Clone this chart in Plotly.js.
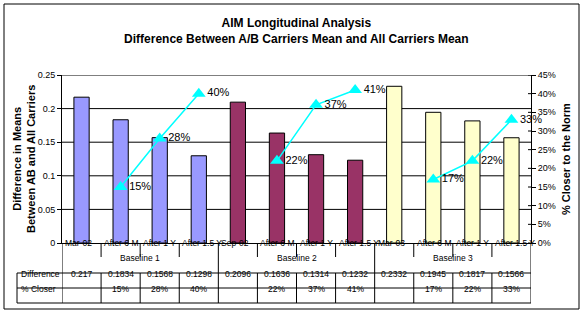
<!DOCTYPE html>
<html>
<head>
<meta charset="utf-8">
<script src="https://cdn.plot.ly/plotly-3.0.1.min.js"></script>
<style>
  body { margin: 0; background: #fff; }
  #chart { width: 584px; height: 315px; }
</style>
</head>
<body>
<div id="chart"></div>
<script>
// chart data
const categories = ["Mar-02", "After 6 M", "After 1 Y", "After 1.5 Y",
                    "Sep-02", "After 6 M", "After 1 Y", "After 1.5 Y",
                    "Mar-03", "After 6 M", "After 1 Y", "After 1.5 Y"];
const baselines = ["Baseline 1", "Baseline 2", "Baseline 3"];
const difference = [0.217, 0.1834, 0.1568, 0.1298, 0.2096, 0.1636, 0.1314, 0.1232, 0.2332, 0.1945, 0.1817, 0.1566];
const closer = [null, 15, 28, 40, null, 22, 37, 41, null, 17, 22, 33];
const leftTicks = [0, 0.05, 0.1, 0.15, 0.2, 0.25];
const rightTicks = [0, 5, 10, 15, 20, 25, 30, 35, 40, 45];

const groupColors = ["#9999FF", "#993366", "#FFFFCC"];
const perGroup = categories.length / baselines.length;

// plot area in pixels: left 62, right 531, top 75, bottom 243
const L = 62, R = 531, T = 75, B = 243;
const px = p => (p - L) / (R - L);
const py = p => (B - p) / (B - T);

const idx = categories.map((c, i) => i);
const font = "Arial, 'Liberation Sans', sans-serif";
const small = { family: font, size: 8.5, color: "#000" };

const bars = {
    x: idx,
    y: difference,
    type: "bar",
    width: 0.39,
    marker: {
        color: idx.map(i => groupColors[Math.floor(i / perGroup)]),
        line: { color: "#000", width: 1 }
    },
    hoverinfo: "y",
    showlegend: false
};

const line = {
    x: idx,
    y: closer,
    yaxis: "y2",
    type: "scatter",
    mode: "lines+markers+text",
    connectgaps: false,
    line: { color: "#00FFFF", width: 1.5 },
    marker: { symbol: "triangle-up", size: 12, color: "#00FFFF" },
    text: closer.map(v => v == null ? "" : v + "%"),
    textposition: "middle right",
    textfont: { family: font, size: 11, color: "#000" },
    cliponaxis: false,
    showlegend: false
};

const shapes = [];
const annotations = [];
const lineStyle = { color: "#000", width: 1 };

// horizontal gridlines
leftTicks.filter(v => v > 0).forEach(v => {
    shapes.push({ type: "line", xref: "paper", yref: "y", x0: 0, x1: 1, y0: v, y1: v,
        layer: "below", line: lineStyle });
});

// right axis ticks cross the axis line
rightTicks.forEach(v => {
    shapes.push({ type: "line", xref: "paper", yref: "y2", x0: px(R - 3), x1: px(R), y0: v, y1: v, line: lineStyle });
});

// table drawn under the axis
function hline(x0, x1, y, xref) {
    shapes.push({ type: "line", xref: xref, yref: "paper", x0: x0, x1: x1, y0: py(y), y1: py(y), line: lineStyle });
}
function vline(x, y0, y1, xref) {
    shapes.push({ type: "line", xref: xref, yref: "paper", x0: x, x1: x, y0: py(y0), y1: py(y1), line: lineStyle });
}

const rowTop = 273, rowMid = 288, rowBot = 303, labelBot = 257;
hline(px(17), 1, rowTop, "paper");
hline(px(17), 1, rowMid, "paper");
hline(px(17), 1, rowBot, "paper");
vline(px(17), rowTop, rowBot, "paper");

for (let i = 0; i <= categories.length; i++) {
    const edge = i % perGroup === 0;
    vline(i - 0.5, B, edge ? rowBot : labelBot, "x");
    if (!edge) vline(i - 0.5, rowTop, rowBot, "x");
}

categories.forEach((c, i) => {
    annotations.push({ xref: "x", yref: "paper", x: i - 0.5, y: py(249.5), text: c,
        xanchor: "left", xshift: 1, showarrow: false, font: small });
    annotations.push({ xref: "x", yref: "paper", x: i, y: py(280.5), text: String(difference[i]),
        xanchor: "center", showarrow: false, font: small });
    if (closer[i] != null) {
        annotations.push({ xref: "x", yref: "paper", x: i, y: py(295.5), text: closer[i] + "%",
            xanchor: "center", showarrow: false, font: small });
    }
});
baselines.forEach((b, g) => {
    annotations.push({ xref: "x", yref: "paper", x: g * perGroup + (perGroup - 1) / 2, y: py(265), text: b,
        xanchor: "center", showarrow: false, font: small });
});
annotations.push({ xref: "paper", yref: "paper", x: px(19), y: py(280.5), text: "Difference",
    xanchor: "left", showarrow: false, font: small });
annotations.push({ xref: "paper", yref: "paper", x: px(19), y: py(295.5), text: "% Closer",
    xanchor: "left", showarrow: false, font: small });

// left and right axis titles
annotations.push({ xref: "paper", yref: "paper", x: px(24), y: 0.5, xanchor: "center", yanchor: "middle",
    textangle: -90, text: "<b>Difference in Means<br>Between AB and All Carriers</b>",
    showarrow: false, font: { family: font, size: 11, color: "#000" } });
annotations.push({ xref: "paper", yref: "paper", x: px(566), y: 0.5, xanchor: "center", yanchor: "middle",
    textangle: -90, text: "<b>% Closer to the Norm</b>",
    showarrow: false, font: { family: font, size: 11, color: "#000" } });

// outer border
shapes.push({ type: "rect", xref: "paper", yref: "paper", x0: px(4), x1: px(579), y0: py(4), y1: py(309),
    line: { color: "#000", width: 1 } });

const layout = {
    width: 584,
    height: 315,
    margin: { l: L, r: 584 - R, t: T, b: 315 - B },
    paper_bgcolor: "#fff",
    plot_bgcolor: "#fff",
    font: { family: font, color: "#000" },
    title: {
        text: "<b>AIM Longitudinal Analysis<br>Difference Between A/B Carriers Mean and All Carriers Mean</b>",
        font: { family: font, size: 12, color: "#000" },
        x: px(300), xanchor: "center", y: 1 - 27 / 315, yanchor: "middle"
    },
    xaxis: {
        range: [-0.5, categories.length - 0.5],
        showticklabels: false,
        ticks: "",
        showgrid: false,
        zeroline: false,
        showline: true,
        linecolor: "#000",
        linewidth: 1,
        fixedrange: true
    },
    yaxis: {
        range: [0, 0.25],
        tickvals: leftTicks,
        ticktext: leftTicks.map(String),
        ticks: "outside",
        ticklen: 4,
        tickcolor: "#000",
        showline: true,
        linecolor: "#000",
        showgrid: false,
        zeroline: false,
        tickfont: { family: font, size: 9, color: "#000" }
    },
    yaxis2: {
        range: [0, 45],
        overlaying: "y",
        side: "right",
        tickvals: rightTicks,
        ticktext: rightTicks.map(v => v + "%"),
        ticks: "outside",
        ticklen: 4,
        tickcolor: "#000",
        showline: true,
        linecolor: "#000",
        showgrid: false,
        zeroline: false,
        tickfont: { family: font, size: 9, color: "#000" }
    },
    shapes: shapes,
    annotations: annotations,
    showlegend: false
};

Plotly.newPlot("chart", [bars, line], layout, { displayModeBar: false, staticPlot: true });
</script>
</body>
</html>
